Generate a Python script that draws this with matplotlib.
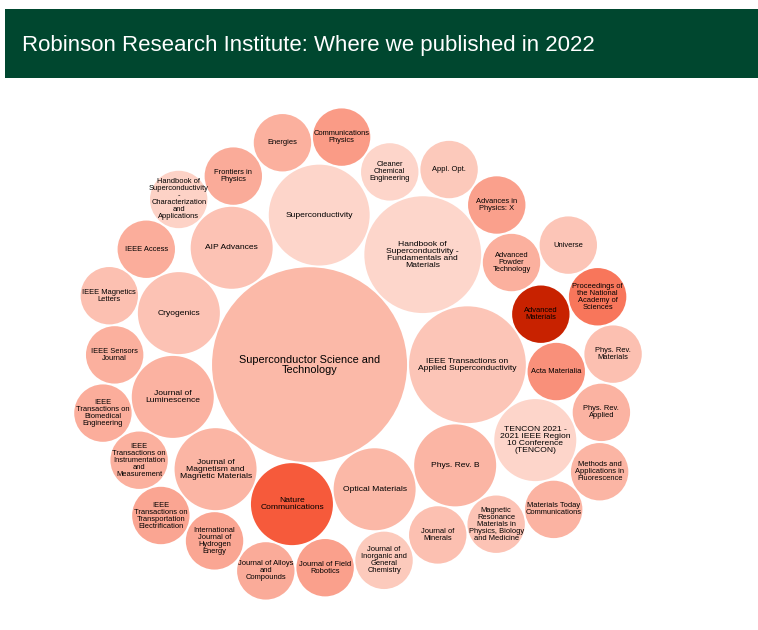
import numpy as np
import matplotlib
matplotlib.use("Agg")
import matplotlib.pyplot as plt
from matplotlib.patches import Circle, Rectangle
from matplotlib.colors import LinearSegmentedColormap, Normalize

plt.rcParams['font.family'] = ['Liberation Sans', 'DejaVu Sans']

title = "Robinson Research Institute: Where we published in 2022"

# ---- data (placement order) ----
labels = [
    "Superconductor Science and\nTechnology",
    "IEEE Transactions on\nApplied Superconductivity",
    "Handbook of\nSuperconductivity -\nFundamentals and\nMaterials",
    "Superconductivity",
    "AIP Advances",
    "Cryogenics",
    "Journal of\nLuminescence",
    "Journal of\nMagnetism and\nMagnetic Materials",
    "Nature\nCommunications",
    "Optical Materials",
    "Phys. Rev. B",
    "TENCON 2021 -\n2021 IEEE Region\n10 Conference\n(TENCON)",
    "Acta Materialia",
    "Advanced\nMaterials",
    "Advanced\nPowder\nTechnology",
    "Advances in\nPhysics: X",
    "Appl. Opt.",
    "Cleaner\nChemical\nEngineering",
    "Communications\nPhysics",
    "Energies",
    "Frontiers in\nPhysics",
    "Handbook of\nSuperconductivity\n-\nCharacterization\nand\nApplications",
    "IEEE Access",
    "IEEE Magnetics\nLetters",
    "IEEE Sensors\nJournal",
    "IEEE\nTransactions on\nBiomedical\nEngineering",
    "IEEE\nTransactions on\nInstrumentation\nand\nMeasurement",
    "IEEE\nTransactions on\nTransportation\nElectrification",
    "International\nJournal of\nHydrogen\nEnergy",
    "Journal of Alloys\nand\nCompounds",
    "Journal of Field\nRobotics",
    "Journal of\nInorganic and\nGeneral\nChemistry",
    "Journal of\nMinerals",
    "Magnetic\nResonance\nMaterials in\nPhysics, Biology\nand Medicine",
    "Materials Today\nCommunications",
    "Methods and\nApplications in\nFluorescence",
    "Phys. Rev.\nApplied",
    "Phys. Rev.\nMaterials",
    "Proceedings of\nthe National\nAcademy of\nSciences",
    "Universe",
]
papers = [11, 4, 4, 3, 2, 2, 2, 2, 2, 2, 2, 2,
          1, 1, 1, 1, 1, 1, 1, 1, 1, 1, 1, 1, 1, 1, 1, 1, 1, 1,
          1, 1, 1, 1, 1, 1, 1, 1, 1, 1]
impact = [4.3, 2.6, 0.4, 0.5, 3.0, 3.0, 5.1, 4.7, 16.6, 4.4, 4.8, 0.5,
          9.5, 30.0, 5.4, 7.4, 2.2, 0.5, 8.2, 5.4, 6.0, 1.0, 5.8, 3.3,
          5.4, 5.8, 5.4, 6.9, 6.7, 6.0, 7.4, 2.1, 3.3, 2.9, 5.0, 4.7,
          5.0, 3.3, 12.9, 2.6]

# ---- style ----
UNIT = 29.7      # px of packing radius per sqrt(paper)
PAD = 1.0        # px gap
cmap = LinearSegmentedColormap.from_list(
    "pubs", [(0.0, "#fdd9ce"), (16.6 / 30, "#f65a3b"), (1.0, "#c82200")])
norm = Normalize(0, 30)


def pack(radii):
    n = len(radii)
    xs = np.zeros(n)
    ys = np.zeros(n)
    xs[1] = radii[0] + radii[1]

    def tangent(a, b, r):
        dx, dy = xs[b] - xs[a], ys[b] - ys[a]
        d = np.hypot(dx, dy)
        da, db = radii[a] + r, radii[b] + r
        x = (d * d + da * da - db * db) / (2 * d)
        h = np.sqrt(max(0.0, da * da - x * x))
        ux, uy = dx / d, dy / d
        return xs[a] + x * ux + h * uy, ys[a] + x * uy - h * ux

    def hits(k, cx, cy, r):
        dr = radii[k] + r - 1e-6
        return dr > 0 and dr * dr > (xs[k] - cx) ** 2 + (ys[k] - cy) ** 2

    xs[2], ys[2] = tangent(1, 0, radii[2])
    nxt = {1: 2, 2: 0, 0: 1}
    prv = {2: 1, 0: 2, 1: 0}
    a, b = 2, 0
    for i in range(3, n):
        r = radii[i]
        while True:
            cx, cy = tangent(a, b, r)
            j, k = nxt[b], prv[a]
            sj, sk = radii[b], radii[a]
            found = False
            while True:
                if sj <= sk:
                    if hits(j, cx, cy, r):
                        b = j
                        nxt[a] = b
                        prv[b] = a
                        found = True
                        break
                    sj += radii[j]
                    j = nxt[j]
                else:
                    if hits(k, cx, cy, r):
                        a = k
                        nxt[a] = b
                        prv[b] = a
                        found = True
                        break
                    sk += radii[k]
                    k = prv[k]
                if j == nxt[k]:
                    break
            if not found:
                break
        xs[i], ys[i] = cx, cy
        nxt[a] = i
        prv[i] = a
        nxt[i] = b
        prv[b] = i
        a = i
    return xs, ys


radii = UNIT * np.sqrt(np.array(papers, dtype=float))
xs, ys = pack(radii)

W, H = 758, 630
fig = plt.figure(figsize=(W / 100, H / 100), dpi=100)
ax = fig.add_axes([0, 0, 1, 1])
ax.axis("off")

xmin, xmax = (xs - radii).min(), (xs + radii).max()
ymin, ymax = (ys - radii).min(), (ys + radii).max()
cxb, cyb = (xmin + xmax) / 2, (ymin + ymax) / 2
TX, TY = 358, 354  # target centre of cluster in pixels (from top-left)
ax.set_xlim(cxb - TX, cxb + W - TX)
ax.set_ylim(cyb - (H - TY), cyb + TY)

for i, (lab, n, imp) in enumerate(zip(labels, papers, impact)):
    ax.add_patch(Circle((xs[i], ys[i]), radii[i] - PAD, facecolor=cmap(norm(imp)),
                        edgecolor="none", zorder=2 * i + 1))
    fs = 7.8 if n > 4 else (6.1 if n > 1 else 5.4)
    ax.text(xs[i], ys[i], lab, ha="center", va="center", multialignment="center",
            fontsize=fs, color="black", linespacing=1.0, zorder=2 * i + 2)

fig.patches.append(Rectangle((5 / W, 1 - 78 / H), 753 / W, 69 / H,
                             transform=fig.transFigure, facecolor="#00472f",
                             edgecolor="none", zorder=0))
fig.text(22 / W, 1 - 51.5 / H, title, color="white", fontsize=16, ha="left",
         va="baseline")

fig.savefig("out.png", dpi=100, facecolor="white")
